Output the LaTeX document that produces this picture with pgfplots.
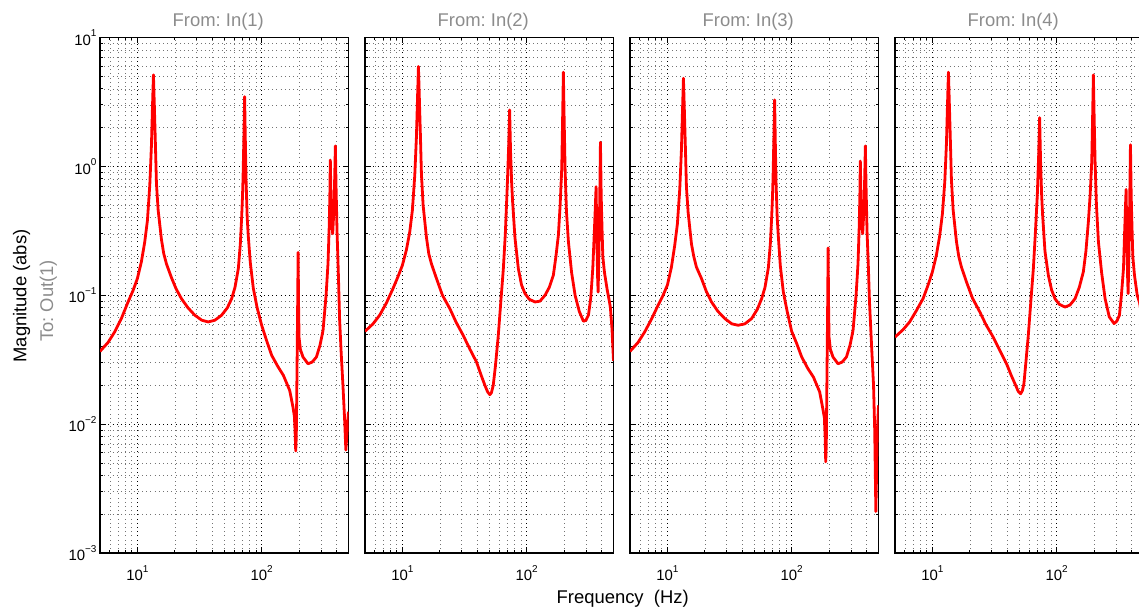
\documentclass[border=0pt]{standalone}
\usepackage{fontspec}
\setmainfont{Liberation Sans}
\usepackage{pgfplots}
\pgfplotsset{compat=1.18}
\frenchspacing
\definecolor{titlegray}{RGB}{140,140,140}
\newcommand{\tl}[1]{10\raisebox{8.5bp}{\fontsize{10}{10}\selectfont #1}}
\pgfplotsset{
  scale only axis, width=248.5bp, height=515.5bp,
  xmin=5, xmax=500, ymin=1e-3, ymax=10,
  xtick={10,100}, xticklabels={\tl{1},\tl{2}},
  minor xtick={5,6,7,8,9,20,30,40,50,60,70,80,90,200,300,400,500},
  ytick={0.001,0.01,0.1,1,10},
  minor ytick={0.002,0.003,0.004,0.005,0.006,0.007,0.008,0.009,0.02,0.03,0.04,0.05,0.06,0.07,0.08,0.09,0.2,0.3,0.4,0.5,0.6,0.7,0.8,0.9,2,3,4,5,6,7,8,9},
  grid=both,
  major grid style={black, line width=0.6bp, dash pattern=on 0.9bp off 3.3bp},
  minor grid style={black!55, line width=0.5bp, dash pattern=on 0.9bp off 3.3bp},
  tick align=inside, tick pos=both,
  major tick length=6bp, minor tick length=3bp,
  every tick/.style={black, line width=0.8bp},
  axis line style={line width=1.3bp},
  tick label style={font=\fontsize{15}{18}\selectfont},
  xticklabel style={yshift=-9bp},
}
\begin{document}
\begin{tikzpicture}
\useasboundingbox (0,0) rectangle (1139bp,610bp);
% Panel 1
\begin{loglogaxis}[anchor=south west, at={(100bp,57bp)}, yticklabels={\tl{−3},\tl{−2},\tl{−1},\tl{0},\tl{1}}]
\addplot[red, line width=2.8bp, line join=round] coordinates {
(5,0.0367) (5.8,0.043) (6.56,0.0519) (7.43,0.066) (8.41,0.0887) (9.23,0.109) (10,0.135) (10.77,0.182) (11.46,0.26) (12.04,0.38) (12.58,0.716) (12.97,1.45) (13.21,2.8) (13.46,5.13) (13.71,2.8) (13.97,1.45) (14.23,0.74) (14.68,0.46) (15.62,0.27) (16.3,0.21) (17.14,0.175) (18.8,0.137) (20.5,0.112) (22.64,0.094) (25.5,0.08) (28.98,0.070) (33,0.064) (37.1,0.0621) (42,0.064) (47.6,0.070) (53,0.08) (57.3,0.094) (61,0.115) (64.9,0.161) (67.35,0.25) (69.0,0.40) (70.1,0.58) (70.8,0.8) (71.9,1.6) (72.93,3.47) (73.9,1.6) (75.0,0.75) (76.5,0.4) (78.0,0.29) (81,0.18) (85.7,0.113) (92,0.08) (100,0.0585) (110,0.044) (120.4,0.0342) (135,0.028) (149.6,0.0239) (168,0.0183) (178.6,0.0136) (183.4,0.0115) (186,0.0085) (188,0.0062) (190,0.008) (192.5,0.025) (195,0.09) (196.6,0.215) (198,0.09) (200,0.047) (205,0.038) (215,0.0332) (236,0.0294) (255,0.0303) (276,0.0332) (295,0.041) (312,0.0535) (330,0.1) (342,0.176) (350,0.35) (354,0.6) (357,1.12) (361,0.6) (366,0.38) (373,0.30) (381,0.45) (387,0.8) (392,1.44) (397,0.7) (404,0.32) (414,0.15) (424,0.065) (437,0.035) (451,0.02) (465,0.011) (476,0.0063) (488,0.009) (500,0.0125)
};
\end{loglogaxis}
% Panel 2
\begin{loglogaxis}[anchor=south west, at={(365bp,57bp)}, yticklabels={}]
\addplot[red, line width=2.8bp, line join=round] coordinates {
(5,0.0525) (5.8,0.06) (6.56,0.070) (7.43,0.087) (8.41,0.113) (9.23,0.14) (10,0.171) (10.77,0.225) (11.46,0.31) (12.04,0.46) (12.58,0.857) (12.97,1.7) (13.21,3.2) (13.46,5.96) (13.71,3.2) (13.97,1.7) (14.23,0.87) (14.68,0.5) (15.62,0.28) (16.3,0.21) (17.14,0.175) (18.8,0.135) (21,0.1) (24.09,0.0787) (27,0.062) (30.83,0.0489) (35,0.038) (39.51,0.0303) (43,0.024) (46.13,0.0200) (48.5,0.0178) (50.56,0.0169) (52,0.0175) (53.82,0.0200) (56,0.028) (59.13,0.0489) (62,0.09) (64.93,0.161) (67.35,0.3) (69.86,0.716) (71.6,1.4) (72.93,2.74) (74.2,1.3) (75.7,0.75) (77.1,0.531) (80.5,0.28) (85.7,0.161) (91,0.12) (97,0.103) (105,0.093) (116.8,0.0887) (128,0.09) (140.6,0.1) (152,0.115) (164,0.143) (172,0.2) (180,0.292) (186,0.5) (191.6,0.965) (194.5,2.2) (197.5,5.38) (200.5,2.2) (203.8,0.965) (209,0.45) (216.8,0.26) (230,0.15) (245.4,0.1) (265,0.075) (286.4,0.0628) (300,0.064) (314.2,0.070) (328,0.095) (340.5,0.161) (350,0.3) (356,0.45) (362,0.695) (368,0.25) (373,0.13) (376,0.106) (381,0.2) (387,0.5) (392.6,1.54) (398,0.6) (402,0.4) (410,0.2) (423,0.15) (445,0.11) (464,0.0887) (472,0.08) (486,0.055) (500,0.031)
};
\end{loglogaxis}
% Panel 3
\begin{loglogaxis}[anchor=south west, at={(630bp,57bp)}, yticklabels={}]
\addplot[red, line width=2.8bp, line join=round] coordinates {
(5,0.0367) (5.8,0.043) (6.56,0.0519) (7.43,0.065) (8.41,0.0836) (9.23,0.1) (10,0.120) (10.77,0.165) (11.46,0.245) (12.04,0.36) (12.58,0.675) (12.97,1.35) (13.21,2.6) (13.46,4.83) (13.71,2.6) (13.97,1.35) (14.23,0.69) (14.68,0.44) (15.62,0.25) (16.3,0.2) (17.14,0.165) (18.8,0.135) (20.5,0.108) (22.64,0.0887) (25.5,0.075) (28.98,0.0659) (33,0.060) (37.1,0.0585) (42,0.060) (47.6,0.0659) (53,0.078) (57.3,0.094) (61,0.115) (64.9,0.163) (67.35,0.25) (69.0,0.40) (70.1,0.58) (70.8,0.8) (71.9,1.6) (72.93,3.28) (73.9,1.5) (75.0,0.72) (76.5,0.4) (78.0,0.292) (81,0.17) (85.7,0.106) (92,0.075) (100,0.0525) (110,0.042) (120.4,0.0332) (135,0.027) (149.6,0.0232) (168,0.0178) (178.6,0.013) (183.4,0.0112) (186,0.008) (188,0.0051) (190,0.007) (192.5,0.025) (195,0.09) (196.6,0.233) (198,0.09) (200,0.047) (205,0.038) (215,0.0332) (236,0.0294) (255,0.0303) (276,0.0332) (295,0.041) (312,0.0535) (330,0.1) (342,0.176) (350,0.35) (354,0.6) (357,1.10) (361,0.6) (366,0.38) (373,0.30) (381,0.45) (387,0.8) (392,1.44) (397,0.7) (404,0.32) (414,0.17) (423,0.0887) (440,0.04) (456,0.02) (466,0.009) (476,0.0021) (488,0.008) (500,0.014)
};
\end{loglogaxis}
% Panel 4
\begin{loglogaxis}[anchor=south west, at={(895bp,57bp)}, yticklabels={}]
\addplot[red, line width=2.8bp, line join=round] coordinates {
(5,0.0474) (5.8,0.054) (6.56,0.0621) (7.43,0.076) (8.41,0.0942) (9.23,0.12) (10,0.152) (10.77,0.205) (11.46,0.292) (12.04,0.43) (12.58,0.76) (12.97,1.5) (13.21,2.9) (13.46,5.38) (13.71,2.9) (13.97,1.5) (14.23,0.78) (14.68,0.46) (15.62,0.26) (16.3,0.2) (17.14,0.165) (18.8,0.127) (21,0.095) (24.09,0.0741) (27,0.059) (30.83,0.0474) (35,0.037) (39.51,0.0294) (43,0.024) (46.13,0.0206) (49,0.018) (51.25,0.0172) (53,0.0182) (54.52,0.0206) (56.5,0.03) (59.13,0.0489) (62,0.09) (64.93,0.161) (67.35,0.3) (69.86,0.598) (71.6,1.2) (72.93,2.39) (74.2,1.1) (75.7,0.6) (77.1,0.418) (80.5,0.22) (85.7,0.143) (91,0.11) (97,0.094) (105,0.085) (116.8,0.081) (128,0.084) (140.6,0.094) (152,0.115) (164,0.152) (172,0.22) (180,0.372) (186,0.6) (191.6,1.09) (194.5,2.3) (197.5,5.13) (200.5,2.3) (203.8,1.09) (209,0.5) (216.8,0.26) (230,0.15) (245.4,0.094) (265,0.068) (289.9,0.0603) (305,0.063) (320,0.070) (332,0.1) (345,0.161) (352,0.3) (357,0.45) (362,0.662) (368,0.25) (373,0.13) (376,0.103) (381,0.2) (387,0.5) (392.6,1.47) (398,0.6) (402,0.4) (410,0.2) (423,0.143) (445,0.1) (464,0.088) (472,0.08) (486,0.055) (500,0.031)
};
\end{loglogaxis}
% Titles and labels
\node[font=\fontsize{18.5}{22}\selectfont, text=titlegray] at (218.25bp,588.5bp) {From: In(1)};
\node[font=\fontsize{18.5}{22}\selectfont, text=titlegray] at (483.25bp,588.5bp) {From: In(2)};
\node[font=\fontsize{18.5}{22}\selectfont, text=titlegray] at (748.25bp,588.5bp) {From: In(3)};
\node[font=\fontsize{18.5}{22}\selectfont, text=titlegray] at (1013.25bp,588.5bp) {From: In(4)};
\node[font=\fontsize{18.5}{22}\selectfont, rotate=90] at (21.7bp,314bp) {Magnitude (abs)};
\node[font=\fontsize{18.5}{22}\selectfont, rotate=90, text=titlegray] at (48.3bp,309bp) {To: Out(1)};
\node[font=\fontsize{18.5}{22}\selectfont] at (622.7bp,11bp) {Frequency\ \ (Hz)};
\end{tikzpicture}
\end{document}
